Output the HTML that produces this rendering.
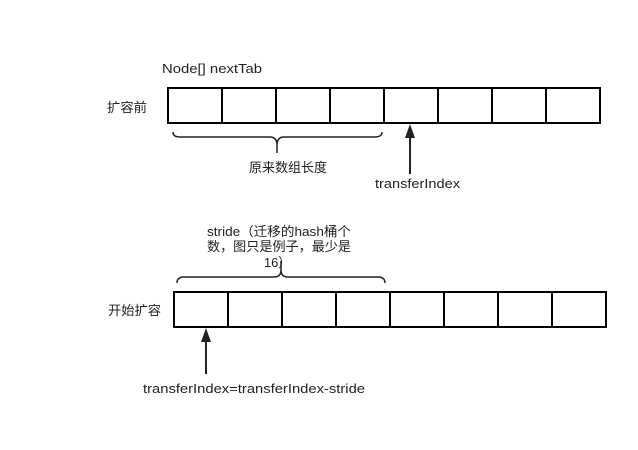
<!DOCTYPE html>
<html><head><meta charset="utf-8"><style>
body{margin:0;background:#fff;width:638px;height:445px;overflow:hidden}
text{font-family:"Liberation Sans","Noto Sans CJK SC",sans-serif;font-size:13px;fill:#222}
</style></head><body>
<svg width="638" height="445" viewBox="0 0 638 445">
<g fill="none" stroke="#000" stroke-width="2">
<rect x="168" y="88" width="432" height="35"/>
<path d="M222 88V123M276 88V123M330 88V123M384 88V123M438 88V123M492 88V123M546 88V123"/>
<rect x="174" y="292" width="432" height="35"/>
<path d="M228 292V327M282 292V327M336 292V327M390 292V327M444 292V327M498 292V327M552 292V327"/>
</g>
<g fill="none" stroke="#222" stroke-width="1.5">
<path d="M173 132Q173 137 180 137L270 137Q277 137 277 145L277 153M277 145Q277 137 284 137L375 137Q382 137 382 132"/>
<path d="M177 283Q177 277 184 277L274 277Q281 277 281 270L281 261M281 270Q281 277 288 277L378 277Q385 277 385 283"/>
</g>
<g stroke="#222" stroke-width="2"><path d="M410 135V174"/><path d="M206 340V374"/></g>
<path d="M410 124L405 138L415 138Z" fill="#222"/>
<path d="M206 328L201 342L211 342Z" fill="#222"/>
<text x="162" y="73" textLength="100" lengthAdjust="spacingAndGlyphs">Node[] nextTab</text>
<text x="107" y="112" textLength="40" lengthAdjust="spacingAndGlyphs">扩容前</text>
<text x="249" y="172" textLength="78" lengthAdjust="spacingAndGlyphs">原来数组长度</text>
<text x="375" y="188" textLength="85" lengthAdjust="spacingAndGlyphs">transferIndex</text>
<text x="207" y="236" textLength="144" lengthAdjust="spacingAndGlyphs">stride（迁移的hash桶个</text>
<text x="207" y="251" textLength="144" lengthAdjust="spacingAndGlyphs">数，图只是例子，最少是</text>
<text x="264" y="267" textLength="27" lengthAdjust="spacingAndGlyphs">16）</text>
<text x="108" y="315" textLength="53" lengthAdjust="spacingAndGlyphs">开始扩容</text>
<text x="143" y="393" textLength="222" lengthAdjust="spacingAndGlyphs">transferIndex=transferIndex-stride</text>
</svg>
</body></html>
